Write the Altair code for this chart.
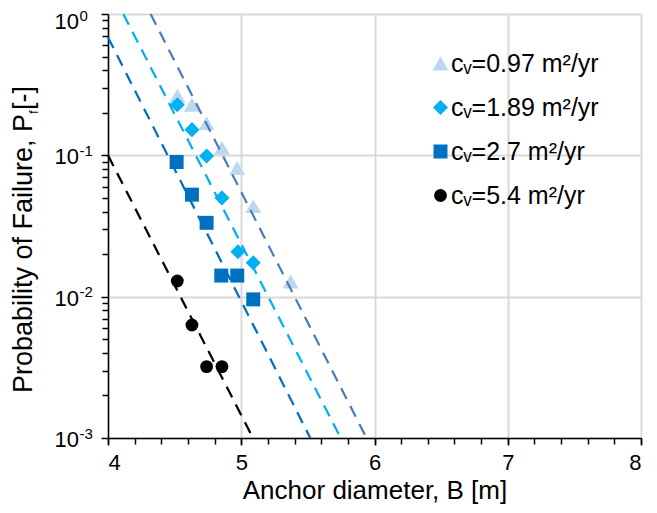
import altair as alt
import pandas as pd

FONT = "Liberation Sans"

# ---- data ----
series = ["cᵥ=0.97 m²/yr", "cᵥ=1.89 m²/yr", "cᵥ=2.7 m²/yr", "cᵥ=5.4 m²/yr"]
marker_colors = ["#BDD7EE", "#00B0F0", "#0070C0", "#000000"]
line_colors = ["#4A7EBB", "#00B0F0", "#0070C0", "#000000"]
shapes = ["triangle-up", "diamond", "square", "circle"]
marker_sizes = [256, 165, 245, 240]

B_097 = [4.52, 4.63, 4.74, 4.855, 4.97, 5.09, 5.37]
Pf_097 = [0.265, 0.228, 0.169, 0.113, 0.0813, 0.0437, 0.0128]
B_189 = [4.52, 4.63, 4.74, 4.855, 4.975, 5.09]
Pf_189 = [0.228, 0.152, 0.099, 0.050, 0.0208, 0.0174]
B_27 = [4.515, 4.63, 4.74, 4.85, 4.97, 5.09]
Pf_27 = [0.0897, 0.0527, 0.0333, 0.0141, 0.0141, 0.00957]
B_54 = [4.52, 4.63, 4.74, 4.855]
Pf_54 = [0.0129, 0.0063, 0.0032, 0.0032]

# trend-line end points (exponential fits, straight on the log axis)
trend_B = [[4.32, 5.94], [4.115, 5.746], [4.0, 5.518], [4.0, 5.088]]
trend_Pf = [[1.0, 0.001], [1.0, 0.001], [0.685, 0.001], [0.1, 0.001]]

x_major = [4, 5, 6, 7, 8]
x_minor = [round(4 + 0.2 * i, 1) for i in range(21)]
y_major = [0.001, 0.01, 0.1, 1]
y_label_base = ["10", "10", "10", "10"]
y_label_exp = ["-3", "-2", "-1", "0"]
y_minor = [m * 10.0 ** e for e in (-3, -2, -1) for m in range(2, 10)]

y_title_main = "Probability of Failure, P"
y_title_sub = "f"
y_title_end = " [-]"
x_title = "Anchor diameter, B [m]"

# ---- tables ----
rows = []
for s, bs, ps in zip(series, [B_097, B_189, B_27, B_54], [Pf_097, Pf_189, Pf_27, Pf_54]):
    for b, p in zip(bs, ps):
        rows.append({"series": s, "B": b, "Pf": p})
pts = pd.DataFrame(rows)

lrows = []
for s, bs, ps in zip(series, trend_B, trend_Pf):
    for i, (b, p) in enumerate(zip(bs, ps)):
        lrows.append({"line": s, "B": b, "Pf": p, "o": i})
lines = pd.DataFrame(lrows)

ylab = pd.DataFrame({"v": y_major, "base": y_label_base, "exp": y_label_exp})

W, H = 533, 424
xscale = alt.Scale(domain=[4, 8], nice=False, zero=False)
yscale = alt.Scale(type="log", domain=[0.001, 1], nice=False)

legend = alt.Legend(
    orient="none", legendX=320, legendY=37, title=None,
    labelFont=FONT, labelFontSize=25, labelColor="black",
    labelOffset=alt.ExprRef("-2"), rowPadding=18, padding=0,
    symbolStrokeWidth=0, symbolOpacity=1,
)

points = alt.Chart(pts).mark_point(filled=True, opacity=1, strokeWidth=0).encode(
    x=alt.X("B:Q", scale=xscale, axis=alt.Axis(
        orient="bottom", values=x_major, format="d", grid=True,
        gridColor="#D9D9D9", gridWidth=2,
        domainColor="black", domainWidth=1.5, tickColor="black",
        tickWidth=1.5, tickSize=7, labelFont=FONT, labelFontSize=22,
        labelColor="black", labelPadding=7, title=x_title,
        titleFont=FONT, titleFontSize=26, titleFontWeight="normal",
        titleColor="black", titlePadding=4)),
    y=alt.Y("Pf:Q", scale=yscale, axis=alt.Axis(
        orient="left", values=y_major, grid=True, gridColor="#D9D9D9",
        gridWidth=2, domainColor="black", domainWidth=1.5,
        tickColor="black", tickWidth=1.5, tickSize=7,
        labels=False, title=None)),
    color=alt.Color("series:N", scale=alt.Scale(domain=series, range=marker_colors), legend=legend),
    shape=alt.Shape("series:N", scale=alt.Scale(domain=series, range=shapes), legend=legend),
    size=alt.Size("series:N", scale=alt.Scale(domain=series, range=marker_sizes), legend=legend),
)

trend = alt.Chart(lines).mark_line(strokeWidth=2.25, strokeDash=[12, 8]).encode(
    x=alt.X("B:Q", scale=xscale, axis=alt.Axis(
        orient="bottom", values=x_minor, labels=False, grid=False,
        domain=False, tickColor="black", tickWidth=1.5, tickSize=6,
        title=None)),
    y=alt.Y("Pf:Q", scale=yscale, axis=alt.Axis(
        orient="left", values=y_minor, labels=False, grid=False,
        domain=False, tickColor="black", tickWidth=1.5, tickSize=6,
        title=None)),
    stroke=alt.Stroke("line:N", scale=alt.Scale(domain=series, range=line_colors), legend=None),
    detail="line:N",
    order="o:Q",
)

# y tick labels: "10" with a superscript exponent
def ylabels(filt, shift):
    base = alt.Chart(ylab).transform_filter(filt).mark_text(
        align="right", baseline="alphabetic", dy=9 + shift,
        font=FONT, fontSize=22, color="black").encode(
        y=alt.Y("v:Q", scale=yscale, axis=None), x=alt.value(-29), text="base:N")
    exp = alt.Chart(ylab).transform_filter(filt).mark_text(
        align="left", baseline="alphabetic", dy=0.5 + shift,
        font=FONT, fontSize=15, color="black").encode(
        y=alt.Y("v:Q", scale=yscale, axis=None), x=alt.value(-28.5), text="exp:N")
    return [base, exp]

lab_layers = ylabels("datum.v < 0.5", 0) + ylabels("datum.v >= 0.5", 6)

tdf = pd.DataFrame({"t": [0]})
t_main = alt.Chart(tdf).mark_text(
    text=y_title_main, angle=270, align="left", baseline="alphabetic",
    font=FONT, fontSize=27, color="black").encode(
    x=alt.value(-76.5), y=alt.value(379))
t_sub = alt.Chart(tdf).mark_text(
    text=y_title_sub, angle=270, align="center", baseline="alphabetic",
    font=FONT, fontSize=12, color="black").encode(
    x=alt.value(-70.5), y=alt.value(98))
t_end = alt.Chart(tdf).mark_text(
    text=y_title_end, angle=270, align="left", baseline="alphabetic",
    font=FONT, fontSize=27, color="black").encode(
    x=alt.value(-76.5), y=alt.value(96))

chart = alt.layer(points, trend, *lab_layers, t_main, t_sub, t_end).resolve_axis(
    x="independent", y="independent"
).properties(
    width=W, height=H,
    autosize=alt.AutoSizeParams(type="none"),
    padding={"left": 100, "top": 6, "right": 8, "bottom": 75},
).configure_view(stroke=None).configure(background="white")

chart.save("out.html", embed_options={"renderer": "svg", "actions": False})
